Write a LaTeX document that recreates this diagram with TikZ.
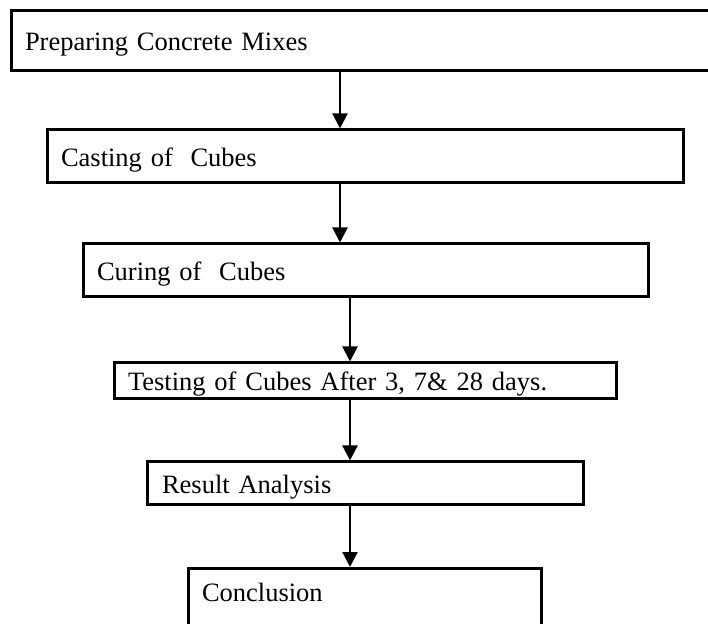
\documentclass[tikz,border=0pt]{standalone}
\usepackage{fontspec}
\setmainfont{Liberation Serif}
\usetikzlibrary{arrows.meta}
\begin{document}
\begin{tikzpicture}[x=1pt,y=1pt,
  box/.style={draw, line width=3pt, rectangle, inner xsep=14pt, inner ysep=0pt,
    align=left, font=\fontsize{26.5}{30}\selectfont, text height=20pt, text depth=0pt},
  arr/.style={line width=2.2pt, -{Triangle[width=15pt,length=15pt]}}]
\useasboundingbox (0,0) rectangle (708,623);
\clip (0,0) rectangle (708,623);
\node[box, minimum width=709pt, minimum height=60pt, text width=681pt] (b1) at (365.5,582) {Preparing Concrete Mixes};
\node[box, minimum width=636pt, minimum height=53pt, text width=608pt] (b2) at (365,466.5) {Casting of\ \ Cubes};
\node[box, minimum width=565pt, minimum height=53pt, text width=537pt] (b3) at (365.5,352.5) {Curing of\ \ Cubes};
\node[box, minimum width=502pt, minimum height=36pt, text width=474pt] (b4) at (365,242) {Testing of Cubes After 3, 7\& 28 days.};
\node[box, minimum width=436pt, minimum height=43pt, text width=406pt, inner xsep=15pt] (b5) at (365,139.5) {Result Analysis};
\node[box, anchor=north, minimum width=353pt, text width=325pt, text height=32.5pt, text depth=40pt] (b6) at (364.5,56) {Conclusion};
\coordinate (c1) at (340,0);
\coordinate (c2) at (350,0);
\draw[arr] (b1.south -| c1) -- (b2.north -| c1);
\draw[arr] (b2.south -| c1) -- (b3.north -| c1);
\draw[arr] (b3.south -| c2) -- (b4.north -| c2);
\draw[arr] (b4.south -| c2) -- (b5.north -| c2);
\draw[arr] (b5.south -| c2) -- (b6.north -| c2);
\end{tikzpicture}
\end{document}
